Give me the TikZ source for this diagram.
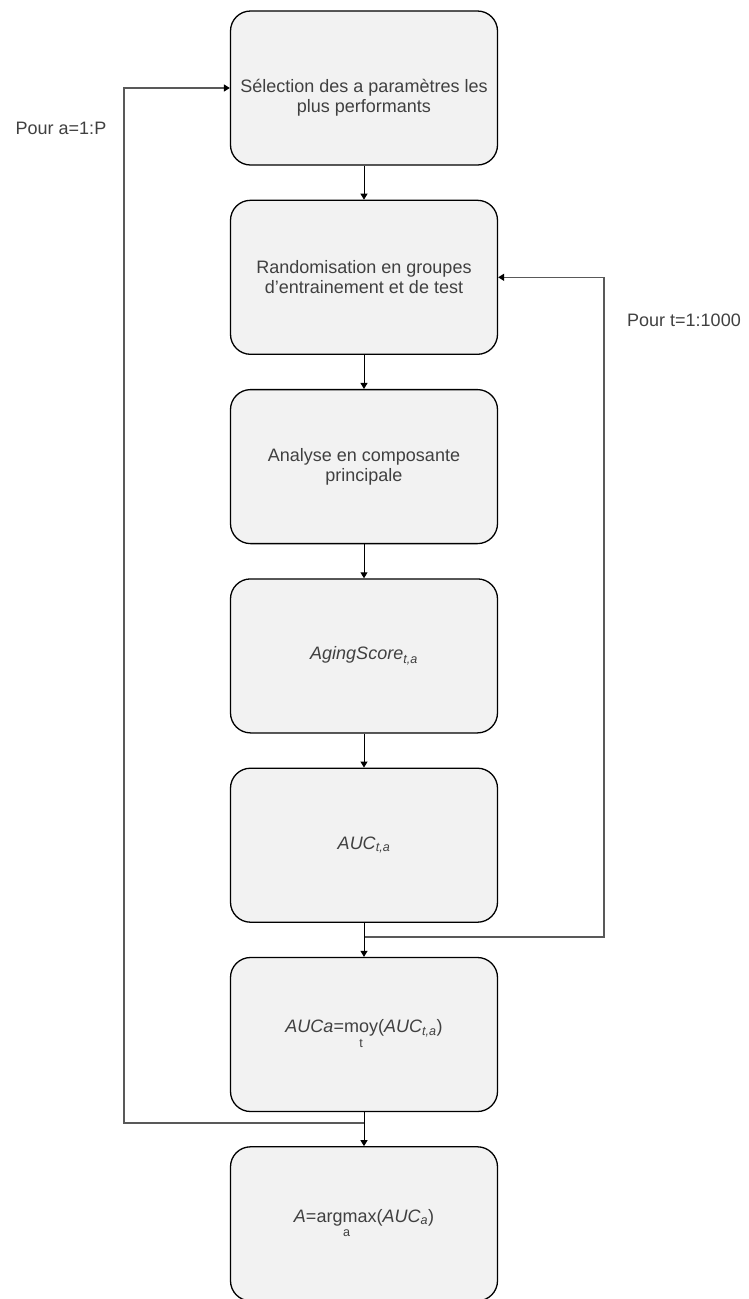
\documentclass[tikz,border=0pt]{standalone}
\usepackage{amsmath}
\usepackage{fontspec}
\setmainfont{Liberation Sans}
\usetikzlibrary{positioning,arrows.meta}
\definecolor{boxfill}{HTML}{F2F2F2}
\definecolor{loopgray}{HTML}{595959}
\definecolor{txtgray}{HTML}{404040}
\tikzset{
  stepbox/.style={draw=black,fill=boxfill,rounded corners=20pt,line width=1.3pt,
    minimum width=267pt,minimum height=154pt,align=center,text=txtgray,
    font=\fontsize{18}{20}\selectfont},
  flow/.style={-{Triangle[length=6pt,width=7pt]},line width=1pt},
  loopln/.style={-{Triangle[length=6pt,width=7pt,black]},line width=1.4pt,draw=loopgray}, % gray loop line
  lbl/.style={text=txtgray,font=\fontsize{18}{20}\selectfont},
}

\begin{document}
\begin{tikzpicture}[node distance=34pt]
  \useasboundingbox (0,0) rectangle (748pt,-1299pt);
  \node[stepbox] (sel) at (364pt,-88pt) {\mbox{}\\[13pt]Sélection des a paramètres les\\plus performants};
  \node[stepbox,below=of sel] (rand) {Randomisation en groupes\\d’entrainement et de test};
  \node[stepbox,below=of rand] (acp) {Analyse en composante\\principale};
  \node[stepbox,below=of acp] (score) {$\text{\itshape AgingScore}_{\textit{t,a}}$};
  \node[stepbox,below=of score] (auc) {$\text{\itshape AUC}_{\textit{t,a}}$};
  \node[stepbox,below=of auc] (aucmoy)
    {$\text{\itshape AUCa}\text{=}{\mathop{\text{moy}}\limits_{\text{t}}}\text{(}\text{\itshape AUC}_{\textit{t,a}}\text{)}$};
  \node[stepbox,below=of aucmoy] (best)
    {$\text{\itshape A}\text{=}{\mathop{\text{argmax}}\limits_{\text{a}}}\text{(}\text{\itshape AUC}_{\textit{a}}\text{)}$};

  \node[lbl] (pa) at (61pt,-128pt) {Pour a=1:P};
  \node[lbl] (pt) at (684pt,-320pt) {Pour t=1:1000};

  % loop junctions
  \coordinate (tj) at ([yshift=-14pt]auc.south);
  \coordinate (aj) at ([yshift=-11pt]aucmoy.south);
  \draw[loopln] (tj) -- ++(240pt,0) |- (rand.east);
  \draw[loopln] (aj) -- ++(-240pt,0) |- (sel.west);

  \foreach \a/\b in {sel/rand,rand/acp,acp/score,score/auc,auc/aucmoy,aucmoy/best}
    \draw[flow] (\a.south) -- (\b.north);
\end{tikzpicture}
\end{document}
